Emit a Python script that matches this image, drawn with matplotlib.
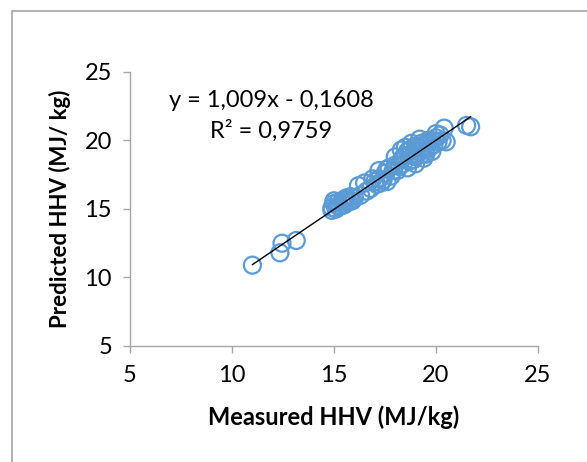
import numpy as np
import matplotlib.pyplot as plt
from matplotlib.patches import Rectangle

plt.rcParams['font.family'] = ['Lato', 'DejaVu Sans']

# measured vs predicted HHV (MJ/kg)
measured = [11.0, 12.35, 12.45, 13.15,
            14.9, 15.0, 15.1, 15.2, 15.3, 15.4, 15.5, 15.6, 15.7, 15.8, 15.9,
            15.0, 15.2, 15.5, 15.8, 16.0, 14.9, 15.4,
            16.5, 16.6, 16.8, 17.0, 17.1, 17.2, 17.4, 17.5, 17.6, 17.7, 17.8,
            17.9, 18.0, 18.1, 18.2, 17.3, 16.9,
            18.3, 18.4, 18.5, 18.6, 18.7, 18.8, 18.9, 19.0, 19.1, 19.2, 19.3,
            19.4, 19.5, 19.6, 19.7, 19.8, 19.9, 20.0, 20.1, 20.2, 18.5, 18.7,
            19.0, 19.3, 19.6, 20.0, 18.4, 18.9, 19.5, 20.3, 20.5, 20.4,
            18.0, 18.3, 18.6, 19.0, 19.4, 18.8, 17.6, 17.2, 19.8, 19.2, 16.3, 16.2,
            21.5, 21.7]
predicted = [10.9, 11.8, 12.5, 12.7,
             15.1, 15.4, 15.0, 15.5, 15.2, 15.6, 15.3, 15.8, 15.5, 15.9, 15.6,
             15.6, 15.2, 15.7, 15.6, 15.8, 14.9, 15.4,
             16.9, 16.3, 16.5, 17.0, 16.8, 17.2, 17.1, 17.6, 17.9, 18.0, 17.4,
             17.8, 18.2, 17.8, 18.1, 16.9, 17.2,
             18.6, 18.3, 18.9, 19.2, 18.5, 19.4, 19.0, 18.8, 19.5, 19.2, 19.0,
             19.6, 19.3, 19.8, 19.5, 20.0, 19.7, 20.2, 19.9, 20.4, 19.5, 19.3,
             19.6, 19.8, 20.0, 20.5, 18.8, 18.6, 19.0, 20.0, 19.9, 20.9,
             18.8, 19.3, 18.0, 18.3, 18.7, 19.8, 17.0, 17.8, 19.2, 20.1, 16.0, 16.7,
             21.1, 21.0]

slope = 1.009
intercept = -0.1608
r2 = 0.9759
ticks = [5, 10, 15, 20, 25]

fig = plt.figure(figsize=(5.87, 4.62), dpi=100)
ax = fig.add_axes([0.2215, 0.2511, 0.695, 0.5931])

ax.scatter(measured, predicted, s=150, facecolors='none', edgecolors='#5B9BD5',
           linewidths=1.6, zorder=3)
xl = np.array([min(measured), max(measured)])
ax.plot(xl, slope * xl + intercept, color='black', lw=1.0, zorder=4)

ax.set_xlim(5, 25)
ax.set_ylim(5, 25)
ax.set_xticks(ticks)
ax.set_yticks(ticks)
for s in ['top', 'right']:
    ax.spines[s].set_visible(False)
for s in ['left', 'bottom']:
    ax.spines[s].set_color('#A6A6A6')
    ax.spines[s].set_linewidth(1.0)
ax.tick_params(colors='#A6A6A6', labelcolor='black', labelsize=17,
               length=5, width=1.0, direction='out')
ax.tick_params(axis='x', pad=9)
ax.tick_params(axis='y', pad=8)

ax.set_xlabel('Measured HHV (MJ/kg)', fontsize=17, fontweight='bold', labelpad=14)
ax.set_ylabel('Predicted HHV (MJ/ kg)', fontsize=16, fontweight='bold', labelpad=10)

ax.text(11.94, 21.8, 'y = 1,009x - 0,1608\nR² = 0,9759', fontsize=17,
        ha='center', va='center', linespacing=1.45)

# chart area frame
fig.add_artist(Rectangle((12 / 587, -0.1), 2.0, 1.1 - 11 / 462, transform=fig.transFigure,
                         fill=False, edgecolor='#A6A6A6', lw=1.2))

fig.savefig('out.png', dpi=100)
